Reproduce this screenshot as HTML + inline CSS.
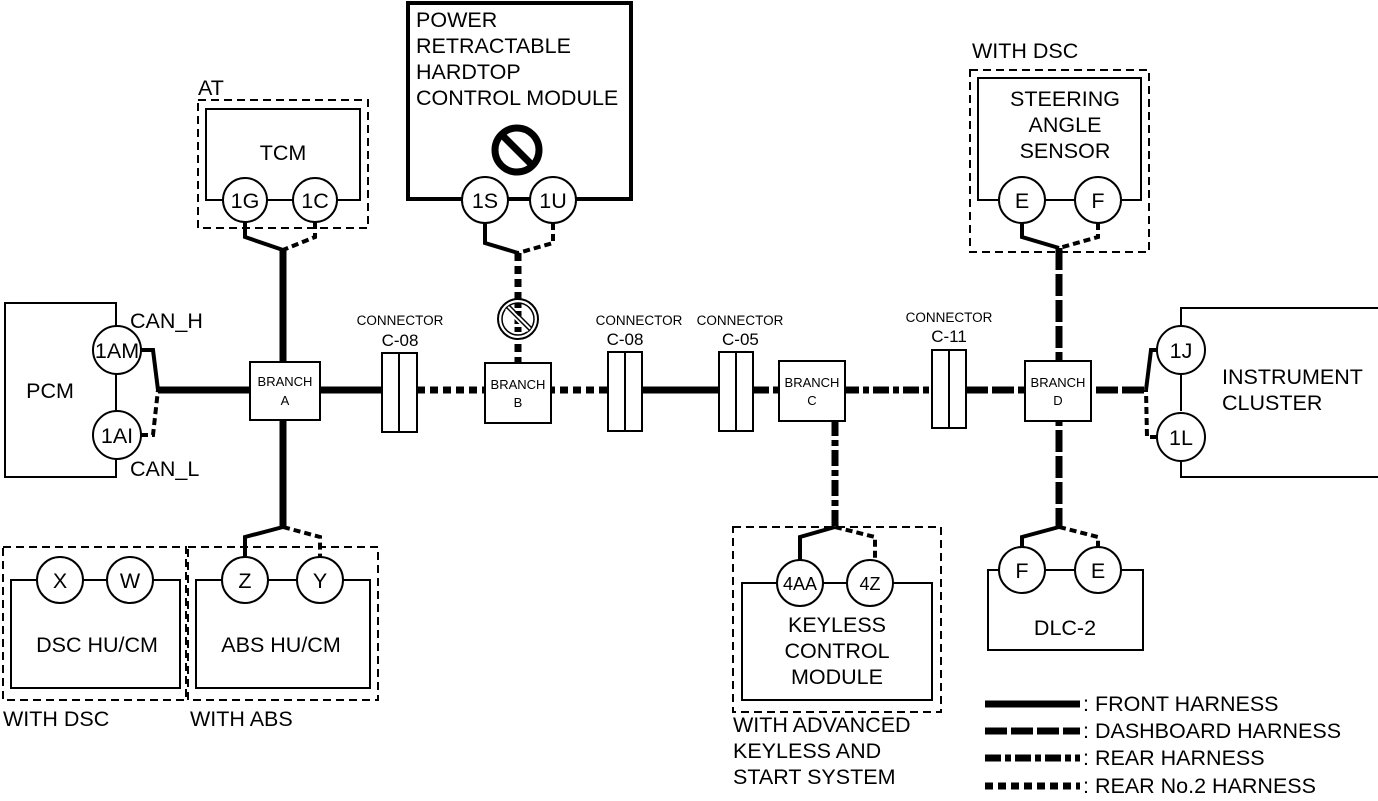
<!DOCTYPE html>
<html><head><meta charset="utf-8"><style>
html,body{margin:0;padding:0;background:#fff}
svg{display:block}
text{font-family:"Liberation Sans",Arial,sans-serif;fill:#000}
</style></head><body>
<svg width="1378" height="801" viewBox="0 0 1378 801" xmlns="http://www.w3.org/2000/svg">
<defs>
<style>
.box{fill:#fff;stroke:#000;stroke-width:2}
.dbox{fill:none;stroke:#000;stroke-width:2;stroke-dasharray:8 5}
.cir{fill:#fff;stroke:#000;stroke-width:2}
.front{stroke:#000;stroke-width:7;fill:none}
.dash{stroke:#000;stroke-width:7;fill:none;stroke-dasharray:22 4}
.rear{stroke:#000;stroke-width:7;fill:none;stroke-dasharray:16 4 6 4}
.rear2{stroke:#000;stroke-width:7;fill:none;stroke-dasharray:8 5}
.w{stroke:#000;stroke-width:4;fill:none}
.wd{stroke:#000;stroke-width:4;fill:none;stroke-dasharray:7 4}
.lbl{font-size:21.5px}
.sm{font-size:13px}
.cn{font-size:13.5px}
.cc{font-size:17px}
</style>
</defs>

<line class="front" x1="158" y1="390" x2="382" y2="390"/>
<line class="rear2" x1="417" y1="390" x2="608" y2="390"/>
<line class="front" x1="642" y1="390" x2="719" y2="390"/>
<line class="rear" x1="753" y1="390" x2="932" y2="390"/>
<line class="dash" x1="966" y1="390" x2="1146" y2="390"/>

<line class="front" x1="283" y1="250" x2="283" y2="527"/>
<line class="rear2" x1="518" y1="253" x2="518" y2="363"/>
<line class="rear" x1="835" y1="420" x2="835" y2="527"/>
<line class="dash" x1="1059" y1="248" x2="1059" y2="527"/>

<!-- PCM -->
<rect class="box" x="5" y="303" width="111" height="174"/>
<text class="lbl" x="50" y="398" text-anchor="middle">PCM</text>
<circle class="cir" cx="117" cy="350" r="24"/>
<circle class="cir" cx="117" cy="435" r="24"/>
<text class="lbl" x="117" y="358" text-anchor="middle">1AM</text>
<text class="lbl" x="117" y="443" text-anchor="middle">1AI</text>
<text class="lbl" x="130" y="328">CAN_H</text>
<text class="lbl" x="130" y="476">CAN_L</text>
<polyline class="w" points="141,350 153,350 158,390"/>
<polyline class="wd" points="141,435 153,435 158,390"/>

<rect class="box" x="250" y="362" width="70" height="58"/>
<text class="sm" x="285" y="386" text-anchor="middle">BRANCH</text>
<text class="sm" x="285" y="405" text-anchor="middle">A</text>

<rect class="box" x="382" y="353" width="35" height="79"/><line x1="399" y1="353" x2="399" y2="432" stroke="#000" stroke-width="2"/>
<text class="cn" x="400" y="325" text-anchor="middle">CONNECTOR</text><text class="cc" x="400" y="346" text-anchor="middle">C-08</text>
<rect class="box" x="608" y="352" width="34" height="79"/><line x1="625" y1="352" x2="625" y2="431" stroke="#000" stroke-width="2"/>
<text class="cn" x="639" y="325" text-anchor="middle">CONNECTOR</text><text class="cc" x="625" y="345" text-anchor="middle">C-08</text>
<rect class="box" x="719" y="352" width="34" height="79"/><line x1="736" y1="352" x2="736" y2="431" stroke="#000" stroke-width="2"/>
<text class="cn" x="740" y="325" text-anchor="middle">CONNECTOR</text><text class="cc" x="722" y="345">C-05</text>
<rect class="box" x="932" y="350" width="34" height="78"/><line x1="949" y1="350" x2="949" y2="428" stroke="#000" stroke-width="2"/>
<text class="cn" x="949" y="322" text-anchor="middle">CONNECTOR</text><text class="cc" x="949" y="342" text-anchor="middle">C-11</text>

<rect class="box" x="485" y="363" width="66" height="60"/>
<text class="sm" x="518" y="389" text-anchor="middle">BRANCH</text><text class="sm" x="518" y="407" text-anchor="middle">B</text>
<rect class="box" x="779" y="361" width="66" height="60"/>
<text class="sm" x="812" y="387" text-anchor="middle">BRANCH</text><text class="sm" x="812" y="405" text-anchor="middle">C</text>
<rect class="box" x="1025" y="361" width="66" height="60"/>
<text class="sm" x="1058" y="387" text-anchor="middle">BRANCH</text><text class="sm" x="1058" y="405" text-anchor="middle">D</text>

<!-- Instrument cluster -->
<polyline fill="none" stroke="#000" stroke-width="2" points="1181,326 1181,308 1378,308"/>
<polyline fill="none" stroke="#000" stroke-width="2" points="1181,374 1181,411"/>
<polyline fill="none" stroke="#000" stroke-width="2" points="1181,461 1181,477 1378,477"/>
<circle class="cir" cx="1181" cy="350" r="24"/>
<circle class="cir" cx="1181" cy="437" r="24"/>
<text class="lbl" x="1181" y="358" text-anchor="middle">1J</text>
<text class="lbl" x="1181" y="445" text-anchor="middle">1L</text>
<text class="lbl" x="1222" y="384">INSTRUMENT</text>
<text class="lbl" x="1222" y="410">CLUSTER</text>
<polyline class="w" points="1157,350 1151,350 1146,390"/>
<polyline class="wd" points="1157,437 1147,437 1146,390"/>

<!-- TCM -->
<text class="lbl" x="198" y="95">AT</text>
<rect class="dbox" x="198" y="100" width="170" height="128"/>
<rect class="box" x="206" y="109" width="154" height="91"/>
<text class="lbl" x="283" y="160" text-anchor="middle">TCM</text>
<circle class="cir" cx="245" cy="200" r="22"/>
<circle class="cir" cx="315" cy="200" r="22"/>
<text class="lbl" x="245" y="208" text-anchor="middle">1G</text>
<text class="lbl" x="315" y="208" text-anchor="middle">1C</text>
<polyline class="w" points="245,222 245,237 283,250"/>
<polyline class="wd" points="315,222 315,237 283,250"/>

<!-- Power retractable -->
<rect x="408" y="3" width="223" height="196" fill="#fff" stroke="#000" stroke-width="4"/>
<text class="lbl" x="416" y="27">POWER</text>
<text class="lbl" x="416" y="53">RETRACTABLE</text>
<text class="lbl" x="416" y="79">HARDTOP</text>
<text class="lbl" x="416" y="105">CONTROL MODULE</text>
<circle cx="517" cy="150" r="22" fill="none" stroke="#000" stroke-width="7"/>
<line x1="502" y1="135" x2="532" y2="165" stroke="#000" stroke-width="7"/>
<circle class="cir" cx="485" cy="200" r="23"/>
<circle class="cir" cx="553" cy="200" r="23"/>
<text class="lbl" x="485" y="208" text-anchor="middle">1S</text>
<text class="lbl" x="553" y="208" text-anchor="middle">1U</text>
<polyline class="w" points="485,223 485,243 518,253"/>
<polyline class="wd" points="553,223 553,243 518,253"/>
<circle cx="518" cy="319" r="20" fill="#fff" stroke="#000" stroke-width="2"/>
<circle cx="518" cy="319" r="16" fill="none" stroke="#000" stroke-width="1.5"/>
<line x1="518" y1="303" x2="518" y2="335" stroke="#000" stroke-width="7" stroke-dasharray="5 3"/>
<line x1="507" y1="308" x2="529" y2="330" stroke="#fff" stroke-width="5"/>
<line x1="506" y1="307" x2="530" y2="331" stroke="#000" stroke-width="1.5"/>
<line x1="509" y1="305" x2="532" y2="328" stroke="#000" stroke-width="1.5"/>

<!-- Steering angle sensor -->
<text class="lbl" x="972" y="58">WITH DSC</text>
<rect class="dbox" x="970" y="70" width="179" height="182"/>
<rect class="box" x="978" y="78" width="163" height="122"/>
<text class="lbl" x="1065" y="106" text-anchor="middle">STEERING</text>
<text class="lbl" x="1065" y="132" text-anchor="middle">ANGLE</text>
<text class="lbl" x="1065" y="158" text-anchor="middle">SENSOR</text>
<circle class="cir" cx="1022" cy="200" r="23"/>
<circle class="cir" cx="1098" cy="200" r="23"/>
<text class="lbl" x="1022" y="208" text-anchor="middle">E</text>
<text class="lbl" x="1098" y="208" text-anchor="middle">F</text>
<polyline class="w" points="1022,223 1022,237 1059,248"/>
<polyline class="wd" points="1098,223 1098,237 1059,248"/>

<!-- DSC / ABS -->
<rect class="dbox" x="3" y="547" width="183" height="153"/>
<rect class="box" x="11" y="580" width="169" height="108"/>
<circle class="cir" cx="60" cy="580" r="23"/><circle class="cir" cx="130" cy="580" r="23"/>
<text class="lbl" x="60" y="588" text-anchor="middle">X</text><text class="lbl" x="130" y="588" text-anchor="middle">W</text>
<text class="lbl" x="97" y="652" text-anchor="middle">DSC HU/CM</text>
<text class="lbl" x="3" y="726">WITH DSC</text>

<rect class="dbox" x="188" y="547" width="190" height="153"/>
<rect class="box" x="196" y="580" width="174" height="108"/>
<circle class="cir" cx="245" cy="580" r="23"/><circle class="cir" cx="320" cy="580" r="23"/>
<text class="lbl" x="245" y="588" text-anchor="middle">Z</text><text class="lbl" x="320" y="588" text-anchor="middle">Y</text>
<text class="lbl" x="281" y="652" text-anchor="middle">ABS HU/CM</text>
<text class="lbl" x="190" y="726">WITH ABS</text>
<polyline class="w" points="283,527 245,537 245,557"/>
<polyline class="wd" points="283,527 320,537 320,557"/>

<!-- Keyless -->
<rect class="dbox" x="733" y="527" width="208" height="185"/>
<rect class="box" x="742" y="583" width="190" height="117"/>
<circle class="cir" cx="800" cy="583" r="23"/><circle class="cir" cx="870" cy="583" r="23"/>
<text x="800" y="590" text-anchor="middle" style="font-size:18px">4AA</text>
<text x="870" y="590" text-anchor="middle" style="font-size:18px">4Z</text>
<text class="lbl" x="837" y="632" text-anchor="middle">KEYLESS</text>
<text class="lbl" x="837" y="658" text-anchor="middle">CONTROL</text>
<text class="lbl" x="837" y="684" text-anchor="middle">MODULE</text>
<polyline class="w" points="835,527 800,537 800,560"/>
<polyline class="wd" points="835,527 875,537 875,560"/>
<text class="lbl" x="733" y="732">WITH ADVANCED</text>
<text class="lbl" x="733" y="758">KEYLESS AND</text>
<text class="lbl" x="733" y="784">START SYSTEM</text>

<!-- DLC-2 -->
<rect class="box" x="988" y="570" width="155" height="80"/>
<circle class="cir" cx="1022" cy="570" r="23"/><circle class="cir" cx="1098" cy="570" r="23"/>
<text class="lbl" x="1022" y="578" text-anchor="middle">F</text><text class="lbl" x="1098" y="578" text-anchor="middle">E</text>
<text class="lbl" x="1065" y="635" text-anchor="middle">DLC-2</text>
<polyline class="w" points="1059,527 1022,537 1022,547"/>
<polyline class="wd" points="1059,527 1098,537 1098,547"/>

<!-- Legend -->
<line class="front" x1="985" y1="704" x2="1080" y2="704"/>
<line class="dash" x1="985" y1="731" x2="1080" y2="731"/>
<line class="rear" x1="985" y1="758" x2="1080" y2="758"/>
<line class="rear2" x1="985" y1="786" x2="1080" y2="786"/>
<text class="lbl" x="1083" y="711">: FRONT HARNESS</text>
<text class="lbl" x="1083" y="738">: DASHBOARD HARNESS</text>
<text class="lbl" x="1083" y="765">: REAR HARNESS</text>
<text class="lbl" x="1083" y="793">: REAR No.2 HARNESS</text>
</svg>
</body></html>
